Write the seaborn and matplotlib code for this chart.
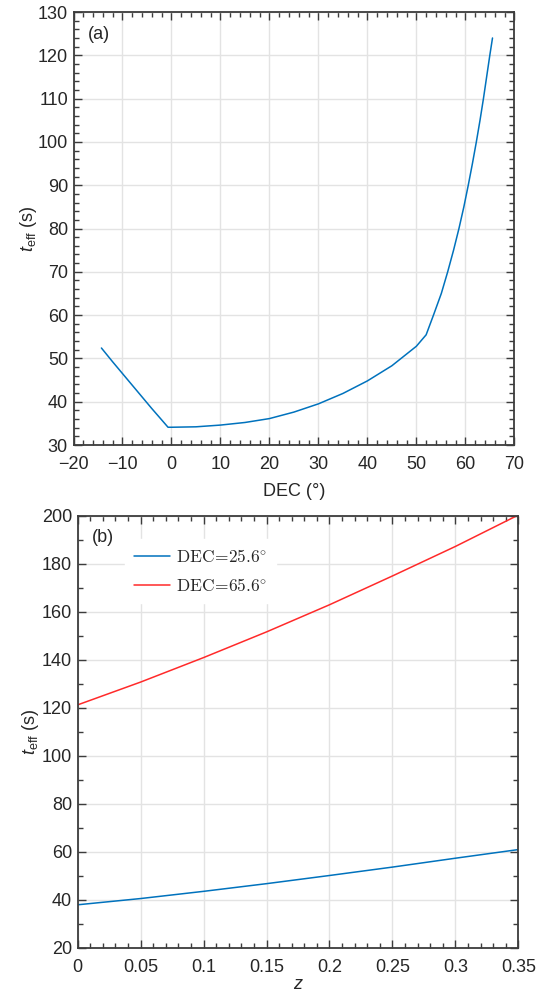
import numpy as np
import pandas as pd
import matplotlib
matplotlib.use("Agg")
import matplotlib.pyplot as plt
import seaborn as sns
from matplotlib.ticker import MultipleLocator

# ---- data ----
dec_a = [-14.3, -12.0, -10.0, -8.0, -6.0, -4.0, -2.0, -0.7, 0.0, 5.0, 10.0, 15.0, 20.0,
         25.0, 30.0, 35.0, 40.0, 45.0, 50.0, 52.0, 53.5, 55.1, 56.4, 57.6, 58.7,
         59.7, 60.6, 61.45, 62.25, 63.0, 63.7, 64.35, 65.0, 65.55]
teff_a = [52.4, 49.2, 46.5, 43.8, 41.1, 38.4, 35.8, 34.1, 34.1, 34.2, 34.6, 35.2, 36.1,
          37.6, 39.5, 41.9, 44.8, 48.3, 52.8, 55.45, 60.0, 65.0, 70.0, 75.0, 80.0,
          85.0, 90.0, 95.0, 100.0, 105.0, 110.0, 115.0, 120.0, 124.0]

z_b = [0.0, 0.05, 0.10, 0.15, 0.20, 0.25, 0.30, 0.35]
teff_dec25 = [37.8, 40.4, 43.4, 46.6, 50.0, 53.5, 57.2, 60.8]
teff_dec65 = [121.1, 130.6, 140.8, 151.5, 162.8, 174.8, 187.1, 200.2]
series_labels = [r"$\mathrm{DEC}\!=\!25.6^{\circ}$", r"$\mathrm{DEC}\!=\!65.6^{\circ}$"]

sns.set_theme(style="whitegrid")
plt.rcParams["font.family"] = ["Liberation Sans", "DejaVu Sans"]
plt.rcParams["mathtext.fontset"] = "custom"
plt.rcParams["mathtext.rm"] = "Liberation Sans"
plt.rcParams["mathtext.it"] = "Liberation Sans:italic"

W, H = 555, 992
fig = plt.figure(figsize=(W / 100, H / 100), dpi=100)
fig.patch.set_facecolor("white")

ax_a = fig.add_axes([73.5 / W, 1 - 445 / H, 440.8 / W, 433 / H])
ax_b = fig.add_axes([77.7 / W, 1 - 947.5 / H, 440.6 / W, 432 / H])

blue = "#0072BD"
red = "#FF2A2A"
spine_c = "#3c3c3c"
txt_c = "#262626"
fs = 13

df_a = pd.DataFrame({"dec": dec_a, "teff": teff_a})
sns.lineplot(data=df_a, x="dec", y="teff", ax=ax_a, color=blue, lw=1.1,
             estimator=None, sort=False)

df_b = pd.DataFrame({
    "z": z_b * 2,
    "teff": teff_dec25 + teff_dec65,
    "series": [series_labels[0]] * len(z_b) + [series_labels[1]] * len(z_b),
})
sns.lineplot(data=df_b, x="z", y="teff", hue="series", ax=ax_b,
             palette=[blue, red], lw=1.1, estimator=None, sort=False)


def style(ax, xlim, ylim, xmaj, xmin, ymaj, ymin):
    ax.set_xlim(*xlim)
    ax.set_ylim(*ylim)
    ax.xaxis.set_major_locator(MultipleLocator(xmaj))
    ax.xaxis.set_minor_locator(MultipleLocator(xmin))
    ax.yaxis.set_major_locator(MultipleLocator(ymaj))
    ax.yaxis.set_minor_locator(MultipleLocator(ymin))
    ax.set_facecolor("white")
    ax.grid(True, which="major", color="#e3e3e3", lw=1.0)
    ax.grid(False, which="minor")
    for s in ax.spines.values():
        s.set_visible(True)
        s.set_color(spine_c)
        s.set_linewidth(1.3)
    ax.tick_params(which="both", direction="in", top=True, right=True,
                   bottom=True, left=True, color=spine_c, labelsize=fs,
                   labelcolor=txt_c)
    ax.tick_params(axis="x", which="both", pad=8)
    ax.tick_params(axis="y", which="both", pad=4)
    ax.tick_params(which="major", length=6, width=1.0)
    ax.tick_params(which="minor", length=3.5, width=1.0)


style(ax_a, (-20, 70), (30, 130), 10, 2, 10, 2)
style(ax_b, (0, 0.35), (20, 200), 0.05, 0.01, 20, 10)

ax_a.set_xticks(np.arange(-20, 71, 10))
ax_a.set_xticklabels(["\u221220", "\u221210", "0", "10", "20", "30", "40", "50", "60", "70"])
ax_b.set_xticks([0, 0.05, 0.1, 0.15, 0.2, 0.25, 0.3, 0.35])
ax_b.set_xticklabels(["0", "0.05", "0.1", "0.15", "0.2", "0.25", "0.3", "0.35"])

ax_a.set_xlabel("DEC (\u00b0)", fontsize=fs, color=txt_c, labelpad=7)
ax_b.set_xlabel(r"$\mathit{z}$", fontsize=fs, color=txt_c, labelpad=0)
for ax in (ax_a, ax_b):
    ax.set_ylabel(r"$t_{\mathrm{eff}}$ (s)", fontsize=fs, color=txt_c,
                  va="center")
ax_a.yaxis.set_label_coords(-0.101, 0.5)
ax_b.yaxis.set_label_coords(-0.108, 0.5)

ax_a.text(0.033, 0.968, "(a)", transform=ax_a.transAxes, fontsize=fs,
          va="top", ha="left", color=txt_c)
ax_b.text(0.033, 0.968, "(b)", transform=ax_b.transAxes, fontsize=fs,
          va="top", ha="left", color=txt_c)

plt.rcParams["mathtext.fontset"] = "cm"
leg = ax_b.legend(loc="upper left", bbox_to_anchor=(0.107, 0.945), frameon=True,
                  fontsize=12.5, handlelength=2.1, handletextpad=0.35,
                  labelspacing=0.72, borderpad=0.5, borderaxespad=0.0, title=None)
leg.get_frame().set_facecolor("white")
leg.get_frame().set_edgecolor("white")
leg.get_frame().set_alpha(1.0)
for t in leg.get_texts():
    t.set_color(txt_c)

fig.savefig("out.png", dpi=100, facecolor="white")
